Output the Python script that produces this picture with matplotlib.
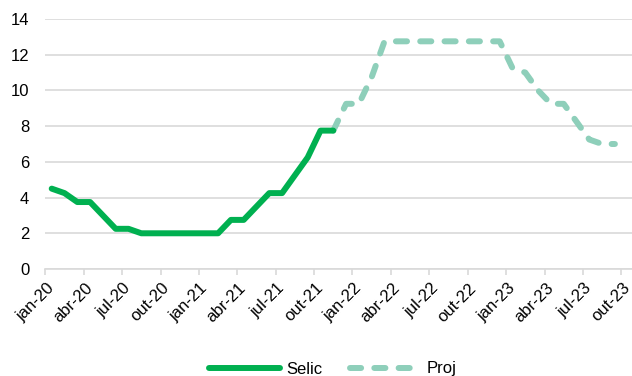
import matplotlib
matplotlib.use("Agg")
import matplotlib.pyplot as plt

plt.rcParams['font.family'] = ['Liberation Sans', 'DejaVu Sans']
plt.rcParams['lines.scale_dashes'] = False

# meses de jan-20 a out-23
MESES_ABREV = ['jan', 'fev', 'mar', 'abr', 'mai', 'jun',
               'jul', 'ago', 'set', 'out', 'nov', 'dez']
CATEGORIAS = [f"{MESES_ABREV[i % 12]}-{20 + i // 12}" for i in range(46)]

# Selic realizada (jan-20 a nov-21)
SELIC = [4.5, 4.25, 3.75, 3.75, 3.0, 2.25, 2.25, 2.0, 2.0, 2.0, 2.0, 2.0,
         2.0, 2.0, 2.75, 2.75, 3.5, 4.25, 4.25, 5.25, 6.25, 7.75, 7.75]

# Projeção (nov-21 a set-23)
PROJ_INICIO = 22
PROJ = [7.75, 9.25, 9.25, 10.75, 12.75,
        12.75, 12.75, 12.75, 12.75, 12.75, 12.75, 12.75, 12.75, 12.75,
        11.25, 11.0, 10.0, 9.25, 9.25, 8.25, 7.25, 7.0, 7.0]

COR_SELIC = '#00B050'
COR_PROJ = '#8ECFBA'
COR_GRADE = '#D9D9D9'

fig = plt.figure(figsize=(6.32, 3.76), dpi=100)
ax = fig.add_axes([45.3 / 632, 1 - 269 / 376, 588.8 / 632, 250 / 376])

x_selic = list(range(len(SELIC)))
x_proj = list(range(PROJ_INICIO, PROJ_INICIO + len(PROJ)))

ax.plot(x_proj, PROJ, color=COR_PROJ, lw=4.3, dashes=(8, 9.5),
        dash_capstyle='round', solid_joinstyle='round', label='Proj', zorder=3)
ax.plot(x_selic, SELIC, color=COR_SELIC, lw=4.3, solid_capstyle='round',
        solid_joinstyle='round', label='Selic', zorder=4)

ax.set_xlim(-0.5, len(CATEGORIAS) - 0.5)
ax.set_ylim(0, 14)
ax.set_yticks(range(0, 15, 2))
ax.grid(axis='y', color=COR_GRADE, lw=1.2)
ax.set_axisbelow(True)

# marcas entre categorias, rótulos no centro de cada trimestre
ax.set_xticks([i - 0.5 for i in range(0, 46, 3)])
ax.set_xticklabels([])
ax.set_xticks(list(range(0, 46, 3)), minor=True)
ax.set_xticklabels(CATEGORIAS[::3], minor=True, rotation=45, ha='right',
                   va='center', rotation_mode='anchor', fontsize=12)
ax.tick_params(axis='x', which='major', length=4, color=COR_GRADE, width=1.2)
ax.tick_params(axis='x', which='minor', length=0, pad=12)
ax.tick_params(axis='y', length=0, pad=11.5, labelsize=12)

for lado in ['top', 'right', 'left']:
    ax.spines[lado].set_visible(False)
ax.spines['bottom'].set_color(COR_GRADE)
ax.spines['bottom'].set_linewidth(1.2)

handles, labels = ax.get_legend_handles_labels()
fig.legend(handles[::-1], labels[::-1], loc='center', ncol=2, frameon=False,
           bbox_to_anchor=(333 / 632, 1 - 369 / 376), fontsize=12,
           handlelength=4.25, handletextpad=0.36, columnspacing=1.7)

fig.savefig('out.png', dpi=100)
